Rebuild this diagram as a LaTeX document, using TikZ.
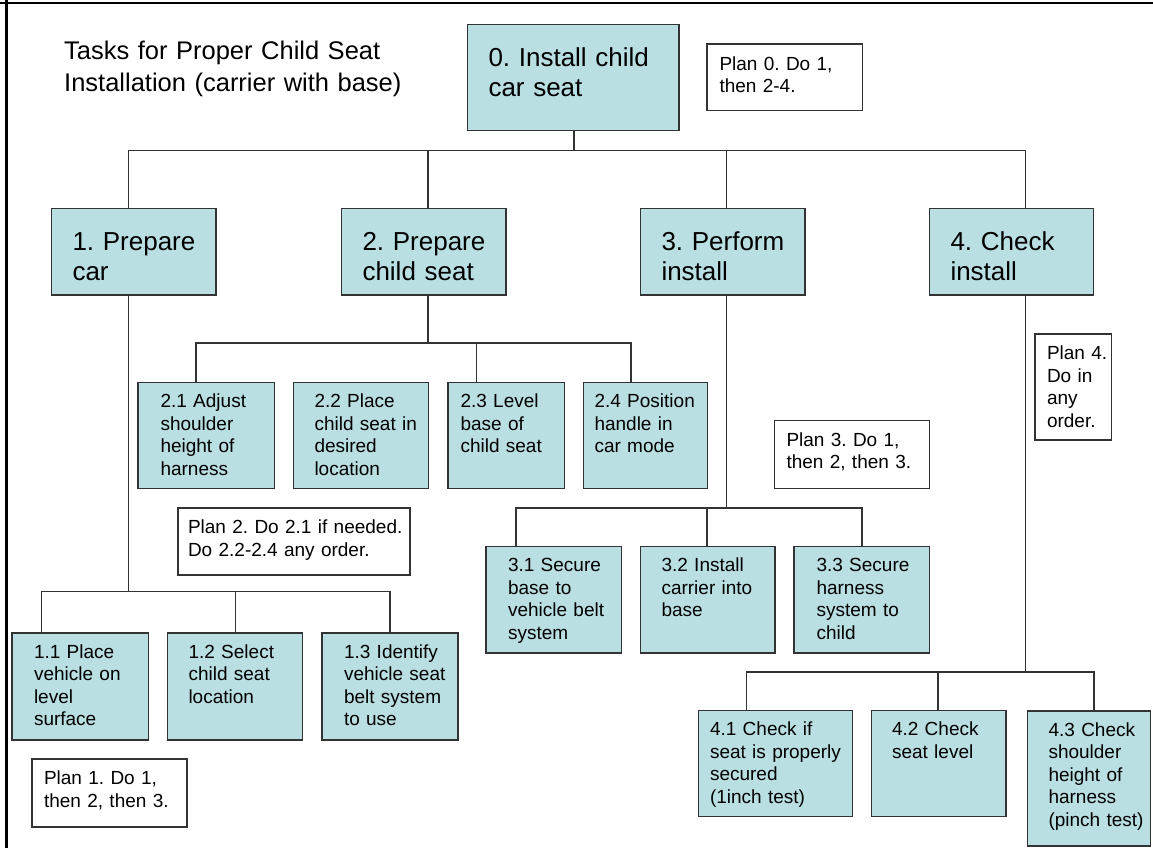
\documentclass[tikz,border=0pt]{standalone}
\usepackage{fontspec}
\setmainfont{Liberation Sans}
\usepackage{tikz}
\usetikzlibrary{positioning}
\definecolor{taskfill}{RGB}{185,223,227}
\frenchspacing

\begin{document}
\begin{tikzpicture}
  [x=1pt,y=-1pt,
   task/.style={draw=black!80, line width=1.4pt, fill=taskfill, anchor=north west, inner sep=0pt, outer sep=0pt, align=left},
   plan/.style={task, fill=white},
   bigtext/.style={font=\fontsize{26}{30.7}\selectfont, text height=41.6pt},
   smalltext/.style={font=\fontsize{19}{22.5}\selectfont, text height=25pt},
   inset/.style={execute at begin node={\leftskip=#1pt}},
   link/.style={draw=black!80, line width=1.4pt}]
  \useasboundingbox (0,0) rectangle (1153,848);
  \draw[line width=2pt] (0,3) -- (1153,3);
  \draw[line width=2.5pt] (6.5,0) -- (6.5,848);

  \node[anchor=north west, inner sep=0pt, text width=400pt, align=left, font=\fontsize{25.5}{32}\selectfont, text height=18.4pt] (title) at (64,40.7) {Tasks for Proper Child Seat\\Installation (carrier with base)};

  \node[task, bigtext, inset=21, text width=211.5pt, text depth=64.4pt] (n0) at (467.5,24.5) {0. Install child\\car seat};
  \node[task, bigtext, inset=21, text width=164.5pt, text depth=44.9pt] (n1) at (51.5,208.5) {1. Prepare\\car};
  \node[task, bigtext, inset=21, text width=164.5pt, text depth=44.9pt] (n2) at (341.5,208.5) {2. Prepare\\child seat};
  \node[task, bigtext, inset=21, text width=164.5pt, text depth=44.9pt] (n3) at (640.5,208.5) {3. Perform\\install};
  \node[task, bigtext, inset=21, text width=164pt, text depth=44.9pt] (n4) at (929.5,208.5) {4. Check\\install};

  \node[task, smalltext, inset=22.5, text width=136.5pt, text depth=81pt] (n21) at (138,382.5) {2.1 Adjust\\shoulder\\height of\\harness};
  \node[task, smalltext, inset=21, text width=135pt, text depth=81pt] (n22) at (293.5,382.5) {2.2 Place\\child seat in\\desired\\location};
  \node[task, smalltext, inset=12.5, text width=116.5pt, text depth=81pt] (n23) at (448,382.5) {2.3 Level\\base of\\child seat};
  \node[task, smalltext, inset=11, text width=124pt, text depth=81pt] (n24) at (583.5,382.5) {2.4 Position\\handle in\\car mode};

  \node[task, smalltext, inset=22, text width=136.5pt, text depth=82pt] (n11) at (12,633) {1.1 Place\\vehicle on\\level\\surface};
  \node[task, smalltext, inset=21, text width=135pt, text depth=82pt] (n12) at (167.5,633) {1.2 Select\\child seat\\location};
  \node[task, smalltext, inset=22, text width=136pt, text depth=82pt] (n13) at (322,633) {1.3 Identify\\vehicle seat\\belt system\\to use};

  \node[task, smalltext, inset=22, text width=135.5pt, text depth=81.5pt] (n31) at (486,546.5) {3.1 Secure\\base to\\vehicle belt\\system};
  \node[task, smalltext, inset=21, text width=134.5pt, text depth=81.5pt] (n32) at (640.5,546.5) {3.2 Install\\carrier into\\base};
  \node[task, smalltext, inset=22.5, text width=135.5pt, text depth=81.5pt] (n33) at (794,546.5) {3.3 Secure\\harness\\system to\\child};

  \node[task, smalltext, inset=11.5, text width=154pt, text depth=81pt] (n41) at (698.5,710.5) {4.1 Check if\\seat is properly\\secured\\(1inch test)};
  \node[task, smalltext, inset=20.5, text width=134.5pt, text depth=81pt] (n42) at (871.5,710.5) {4.2 Check\\seat level};
  \node[task, smalltext, inset=21, text width=123pt, text depth=110pt] (n43) at (1027.5,711) {4.3 Check\\shoulder\\height of\\harness\\(pinch test)};

  \node[plan, smalltext, inset=12.5, text width=155.5pt, text height=26.5pt, text depth=40pt] (p0) at (707,44) {Plan 0. Do 1,\\then 2-4.};
  \node[plan, smalltext, inset=12, text width=155pt, text height=25.5pt, text depth=42.5pt] (p1) at (32,759) {Plan 1. Do 1,\\then 2, then 3.};
  \node[plan, smalltext, inset=10, text width=232pt, text height=25.5pt, text depth=41.5pt] (p2) at (178,508) {Plan 2. Do 2.1 if needed.\\Do 2.2-2.4 any order.};
  \node[plan, smalltext, inset=12, text width=155pt, text height=25.5pt, text depth=42.5pt] (p3) at (774.5,420.5) {Plan 3. Do 1,\\then 2, then 3.};
  \node[plan, smalltext, inset=12, text width=76.5pt, text height=25.5pt, text depth=80.5pt] (p4) at (1035,334) {Plan 4.\\Do in\\any\\order.};

  \coordinate (b0) at (574,150.5);
  \coordinate (b1) at (128.5,591.5);
  \coordinate (b2) at (428,343);
  \coordinate (b3) at (726.5,508);
  \coordinate (b4) at (1025.5,672);

  \foreach \n/\b in {n0/b0, n1/b1, n2/b2, n3/b3, n4/b4}
    \draw[link] (\b |- \n.south) -- (\b);
  \foreach \b/\c/\dx in {b0/n1/-5.25, b0/n2/4.25, b0/n3/3.75, b0/n4/14,
                         b1/n11/-38.75, b1/n12/0.5, b1/n13/0,
                         b2/n21/-10.25, b2/n23/-29.75, b2/n24/-14.5,
                         b3/n31/-37.75, b3/n32/-0.75, b3/n33/0.25,
                         b4/n41/-29, b4/n42/-0.75, b4/n43/5}
    \draw[link] (\b) -| ([xshift=\dx]\c.north);
\end{tikzpicture}
\end{document}
